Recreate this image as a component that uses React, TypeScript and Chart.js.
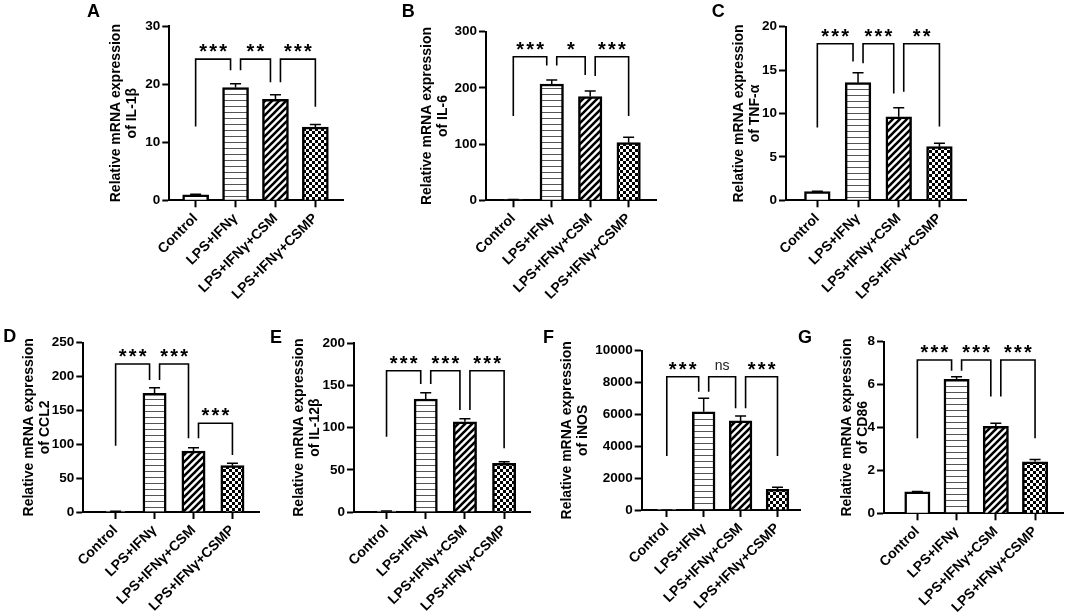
import React, { useEffect, useRef } from 'react';
import { Chart, registerables } from 'chart.js';

Chart.register(...registerables);

const FONT = "'Liberation Sans', Arial, Helvetica, sans-serif";
Chart.defaults.font.family = FONT;

const categories = ['Control', 'LPS+IFNγ', 'LPS+IFNγ+CSM', 'LPS+IFNγ+CSMP'];

// A: IL-1β
const il1bMean = [0.95, 19.4, 17.4, 12.6];
const il1bErr = [0.1, 0.65, 0.75, 0.45];
const il1bTicks = [0, 10, 20, 30];
// [from, to, level, leftLegEnd, rightLegEnd, label]
const il1bBrackets = [
  [0, 1, 24.3, 12.7, 22.4, '***'],
  [1, 2, 24.3, 22.4, 20.3, '**'],
  [2, 3, 24.3, 20.3, 16.1, '***'],
];

// B: IL-6
const il6Mean = [1, 207, 184.5, 102.5];
const il6Err = [0.3, 7, 10, 9.5];
const il6Ticks = [0, 100, 200, 300];
const il6Brackets = [
  [0, 1, 255.5, 150, 240, '***'],
  [1, 2, 255.5, 240, 223, '*'],
  [2, 3, 255.5, 221, 150, '***'],
];

// C: TNF-α
const tnfMean = [1, 13.55, 9.63, 6.18];
const tnfErr = [0.05, 1.15, 1.04, 0.39];
const tnfTicks = [0, 5, 10, 15, 20];
const tnfBrackets = [
  [0, 1, 18.04, 8.4, 16.0, '***'],
  [1, 2, 18.04, 15.8, 12.3, '***'],
  [2, 3, 18.04, 12.5, 8.5, '**'],
];

// D: CCL2
const ccl2Mean = [1, 175.3, 90.1, 68.4];
const ccl2Err = [0.2, 8.3, 4.9, 3.5];
const ccl2Ticks = [0, 50, 100, 150, 200, 250];
const ccl2Brackets = [
  [0, 1, 218.6, 98, 195, '***'],
  [1, 2, 218.6, 195, 108.8, '***'],
  [2, 3, 131, 108.8, 84, '***'],
];

// E: IL-12β
const il12bMean = [1, 134, 107, 57.7];
const il12bErr = [0.2, 7.4, 3.6, 1.9];
const il12bTicks = [0, 50, 100, 150, 200];
const il12bBrackets = [
  [0, 1, 167.5, 89.3, 151.7, '***'],
  [1, 2, 167.5, 151.7, 121, '***'],
  [2, 3, 167.5, 121, 75.5, '***'],
];

// F: iNOS
const inosMean = [1, 6170, 5590, 1300];
const inosErr = [0.5, 840, 315, 125];
const inosTicks = [0, 2000, 4000, 6000, 8000, 10000];
const inosBrackets = [
  [0, 1, 8368, 3390, 7426, '***'],
  [1, 2, 8368, 7426, 6384, 'ns'],
  [2, 3, 8368, 6384, 3390, '***'],
];

// G: CD86
const cd86Mean = [1, 6.25, 4.05, 2.4];
const cd86Err = [0.02, 0.12, 0.15, 0.11];
const cd86Ticks = [0, 2, 4, 6, 8];
const cd86Brackets = [
  [0, 1, 7.15, 3.5, 6.65, '***'],
  [1, 2, 7.15, 6.65, 5.44, '***'],
  [2, 3, 7.15, 5.44, 3.5, '***'],
];

// layout: box = [left, top, right, bottom] of plot area in page px
const panels = [
  { letter: 'A', gene: 'IL-1β', mean: il1bMean, err: il1bErr, ticks: il1bTicks, brackets: il1bBrackets, box: [169.3, 26, 343.3, 200.3], xr: [-0.66, 3.7], barW: 26, titleOff: 53, lp: [87, 17] },
  { letter: 'B', gene: 'IL-6', mean: il6Mean, err: il6Err, ticks: il6Ticks, brackets: il6Brackets, box: [486, 31.7, 656.7, 200.3], xr: [-0.71, 3.73], barW: 23.5, titleOff: 58.5, lp: [401.7, 17] },
  { letter: 'C', gene: 'TNF-α', mean: tnfMean, err: tnfErr, ticks: tnfTicks, brackets: tnfBrackets, box: [786, 26.7, 966.7, 200.3], xr: [-0.77, 3.67], barW: 25.7, titleOff: 47, lp: [711.7, 17] },
  { letter: 'D', gene: 'CCL2', mean: ccl2Mean, err: ccl2Err, ticks: ccl2Ticks, brackets: ccl2Brackets, box: [83.3, 342.7, 259.3, 512], xr: [-0.83, 3.69], barW: 23.3, titleOff: 54, lp: [3.3, 341.7] },
  { letter: 'E', gene: 'IL-12β', mean: il12bMean, err: il12bErr, ticks: il12bTicks, brackets: il12bBrackets, box: [354, 343.3, 530, 512], xr: [-0.83, 3.66], barW: 23.3, titleOff: 55, lp: [270, 343.3] },
  { letter: 'F', gene: 'iNOS', mean: inosMean, err: inosErr, ticks: inosTicks, brackets: inosBrackets, box: [641.7, 350.7, 800, 510], xr: [-0.68, 3.61], barW: 22.7, titleOff: 75, lp: [543, 343] },
  { letter: 'G', gene: 'CD86', mean: cd86Mean, err: cd86Err, ticks: cd86Ticks, brackets: cd86Brackets, box: [884, 341.7, 1063.3, 513.3], xr: [-0.85, 3.72], barW: 25.3, titleOff: 37, lp: [798, 343] },
];

const YW = 100;
const TP = 30;
const RP = 10;
const XH = 120;
const LEG_GAP = 5;
const STAR_PITCH = 10;

function makePatterns(ctx: CanvasRenderingContext2D) {
  const tile = (size: number, draw: (g: CanvasRenderingContext2D, s: number) => void) => {
    const c = document.createElement('canvas');
    c.width = size;
    c.height = size;
    const g = c.getContext('2d')!;
    g.fillStyle = '#fff';
    g.fillRect(0, 0, size, size);
    draw(g, size);
    return ctx.createPattern(c, 'repeat');
  };
  const horiz = tile(6, (g, s) => {
    g.fillStyle = '#555';
    g.fillRect(0, 2, s, 1);
  });
  const diag = tile(7, (g, s) => {
    g.strokeStyle = '#000';
    g.lineWidth = 2.6;
    g.beginPath();
    g.moveTo(-1, s + 1); g.lineTo(s + 1, -1);
    g.moveTo(-s / 2 - 1, s / 2 + 1); g.lineTo(s / 2 + 1, -s / 2 - 1);
    g.moveTo(s / 2 - 1, s * 1.5 + 1); g.lineTo(s * 1.5 + 1, s / 2 - 1);
    g.stroke();
  });
  const check = tile(6, (g) => {
    g.fillStyle = '#000';
    g.fillRect(0, 0, 3, 3);
    g.fillRect(3, 3, 3, 3);
  });
  return ['#ffffff', horiz, diag, check];
}

const overlayPlugin = {
  id: 'overlay',
  afterDatasetsDraw(chart: any, _args: any, opts: any) {
    const { ctx } = chart;
    const x = chart.scales.x;
    const y = chart.scales.y;
    ctx.save();
    ctx.strokeStyle = '#000';
    ctx.fillStyle = '#000';
    // error bars (upper)
    ctx.lineWidth = 1.5;
    opts.mean.forEach((m: number, i: number) => {
      const e = opts.err[i];
      const px = x.getPixelForValue(i);
      const y0 = y.getPixelForValue(m);
      const y1 = y.getPixelForValue(m + e);
      ctx.beginPath();
      ctx.moveTo(px, y0);
      ctx.lineTo(px, y1);
      ctx.moveTo(px - 5.5, y1);
      ctx.lineTo(px + 5.5, y1);
      ctx.stroke();
    });
    // brackets
    const brs = opts.brackets;
    brs.forEach((br: any[]) => {
      const [a, b, level, lv, rv, label] = br;
      const sharedL = brs.some((o: any[]) => o !== br && o[1] === a);
      const sharedR = brs.some((o: any[]) => o !== br && o[0] === b);
      const lx = x.getPixelForValue(a) + (sharedL ? LEG_GAP : 0);
      const rx = x.getPixelForValue(b) - (sharedR ? LEG_GAP : 0);
      const ly = y.getPixelForValue(level);
      ctx.lineWidth = 1.6;
      ctx.lineJoin = 'miter';
      ctx.beginPath();
      ctx.moveTo(lx, y.getPixelForValue(lv));
      ctx.lineTo(lx, ly);
      ctx.lineTo(rx, ly);
      ctx.lineTo(rx, y.getPixelForValue(rv));
      ctx.stroke();
      const cx = (lx + rx) / 2;
      const cy = ly - 11;
      if (label === 'ns') {
        ctx.font = `14px ${FONT}`;
        ctx.textAlign = 'center';
        ctx.textBaseline = 'alphabetic';
        const m = ctx.measureText('ns');
        const base = cy + (m.actualBoundingBoxAscent - m.actualBoundingBoxDescent) / 2;
        ctx.fillStyle = '#222';
        ctx.fillText('ns', cx, base);
        ctx.fillStyle = '#000';
      } else {
        ctx.font = `bold 20px ${FONT}`;
        ctx.textAlign = 'center';
        ctx.textBaseline = 'alphabetic';
        const m = ctx.measureText('*');
        const base = cy + (m.actualBoundingBoxAscent - m.actualBoundingBoxDescent) / 2;
        const n = label.length;
        for (let k = 0; k < n; k++) {
          ctx.fillText('*', cx + (k - (n - 1) / 2) * STAR_PITCH, base);
        }
      }
    });
    // panel letter
    ctx.font = `bold 18px ${FONT}`;
    ctx.textAlign = 'left';
    ctx.textBaseline = 'alphabetic';
    ctx.fillText(opts.letter, opts.letterX, opts.letterY);
    ctx.restore();
  },
};

function Panel({ p }: { p: any }) {
  const ref = useRef<HTMLCanvasElement | null>(null);
  const [L, T, R, B] = p.box;
  const cl = Math.round(L - YW);
  const ct = Math.round(T - TP);
  const yw = L - cl;
  const padTop = T - ct;
  const w = Math.round(R - cl) + RP;
  const padRight = w - (R - cl);
  const h = Math.round(B - ct) + XH;
  const xh = h - (B - ct);

  useEffect(() => {
    const canvas = ref.current!;
    const ctx = canvas.getContext('2d')!;
    const patterns = makePatterns(ctx);
    const lh = 1.15;
    const titleLH = 14 * lh;
    const chart = new Chart(canvas, {
      type: 'bar',
      data: {
        datasets: [
          {
            data: p.mean.map((v: number, i: number) => ({ x: i, y: v })),
            backgroundColor: patterns as any,
            borderColor: '#000',
            borderWidth: 2.5,
            borderSkipped: 'start',
            barThickness: p.barW,
          },
        ],
      },
      options: {
        responsive: false,
        animation: false,
        devicePixelRatio: 1,
        events: [],
        layout: { padding: { left: 0, top: padTop, right: padRight, bottom: 0 } },
        plugins: {
          legend: { display: false },
          tooltip: { enabled: false },
          overlay: {
            mean: p.mean,
            err: p.err,
            brackets: p.brackets,
            letter: p.letter,
            letterX: p.lp[0] - cl,
            letterY: p.lp[1] - ct,
          },
        } as any,
        scales: {
          x: {
            type: 'linear',
            min: p.xr[0],
            max: p.xr[1],
            offset: false,
            afterBuildTicks: (s: any) => {
              s.ticks = categories.map((_, i) => ({ value: i }));
            },
            afterFit: (s: any) => {
              s.height = xh;
            },
            ticks: {
              autoSkip: false,
              minRotation: 45,
              maxRotation: 45,
              color: '#000',
              padding: 3,
              font: { family: FONT, size: 14, weight: 'bold' },
              callback: (v: any) => categories[v as number] ?? '',
            },
            grid: {
              display: true,
              offset: false,
              drawOnChartArea: false,
              drawTicks: true,
              tickLength: 7,
              tickColor: '#000',
              tickWidth: 2,
            },
            border: { display: true, color: '#000', width: 2 },
          },
          y: {
            type: 'linear',
            min: 0,
            max: p.ticks[p.ticks.length - 1],
            afterBuildTicks: (s: any) => {
              s.ticks = p.ticks.map((v: number) => ({ value: v }));
            },
            afterFit: (s: any) => {
              s.width = yw;
            },
            ticks: {
              color: '#000',
              padding: 2,
              font: { family: FONT, size: 13.5, weight: 'bold' },
              callback: (v: any) => String(v),
            },
            grid: {
              display: true,
              drawOnChartArea: false,
              drawTicks: true,
              tickLength: 7,
              tickColor: '#000',
              tickWidth: 2,
            },
            border: { display: true, color: '#000', width: 2 },
            title: {
              display: true,
              text: ['Relative mRNA expression', `of ${p.gene}`],
              color: '#000',
              font: { family: FONT, size: 14, weight: 'bold', lineHeight: lh },
              padding: { top: yw - p.titleOff - titleLH / 2, bottom: 0 },
            },
          },
        },
      } as any,
      plugins: [overlayPlugin as any],
    });
    return () => chart.destroy();
  }, []);

  return (
    <canvas
      ref={ref}
      width={w}
      height={h}
      style={{ position: 'absolute', left: cl, top: ct, width: w, height: h }}
    />
  );
}

export default function App() {
  return (
    <div
      style={{
        position: 'absolute',
        left: 0,
        top: 0,
        width: 1065,
        height: 616,
        overflow: 'hidden',
        background: '#fff',
      }}
    >
      {panels.map((p) => (
        <Panel key={p.letter} p={p} />
      ))}
    </div>
  );
}
